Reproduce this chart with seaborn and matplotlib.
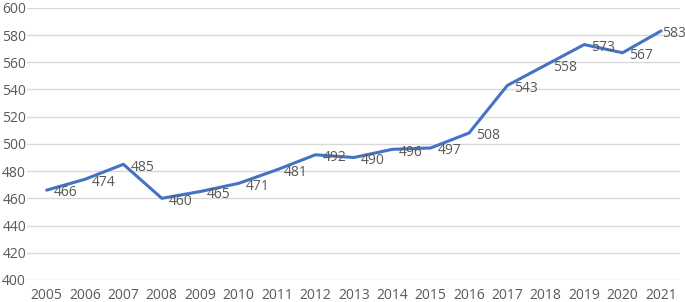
import pandas as pd
import matplotlib.pyplot as plt
import seaborn as sns

years = ["2005", "2006", "2007", "2008", "2009", "2010", "2011", "2012", "2013",
         "2014", "2015", "2016", "2017", "2018", "2019", "2020", "2021"]
values = [466, 474, 485, 460, 465, 471, 481, 492, 490,
          496, 497, 508, 543, 558, 573, 567, 583]

df = pd.DataFrame({"year": years, "value": values})

sns.set_style("white")
plt.rcParams['font.family'] = ['Open Sans', 'DejaVu Sans']

fig = plt.figure(figsize=(6.85, 3.02), dpi=100)
ax = fig.add_axes([0.040, 0.073, 0.953, 0.901])

sns.lineplot(data=df, x="year", y="value", ax=ax, color="#4472C4", linewidth=2.2, sort=False)

for i, v in enumerate(values):
    dx = 1 if i == len(values) - 1 else 5
    ax.annotate(str(v), (i, v), xytext=(dx, -2), textcoords="offset points",
                ha="left", va="center", fontsize=10, color="#595959",
                annotation_clip=False)

ax.set_ylim(400, 600)
ax.set_xlim(-0.5, len(years) - 0.5)
ax.set_yticks(range(400, 601, 20))
ax.grid(axis="y", color="#d9d9d9", linewidth=1)
ax.set_axisbelow(True)
ax.tick_params(axis="both", length=0, labelsize=10, labelcolor="#595959", pad=6)
ax.tick_params(axis="y", pad=1)
for s in ax.spines.values():
    s.set_visible(False)
ax.set_xlabel("")
ax.set_ylabel("")

plt.savefig("out.png", dpi=100)
